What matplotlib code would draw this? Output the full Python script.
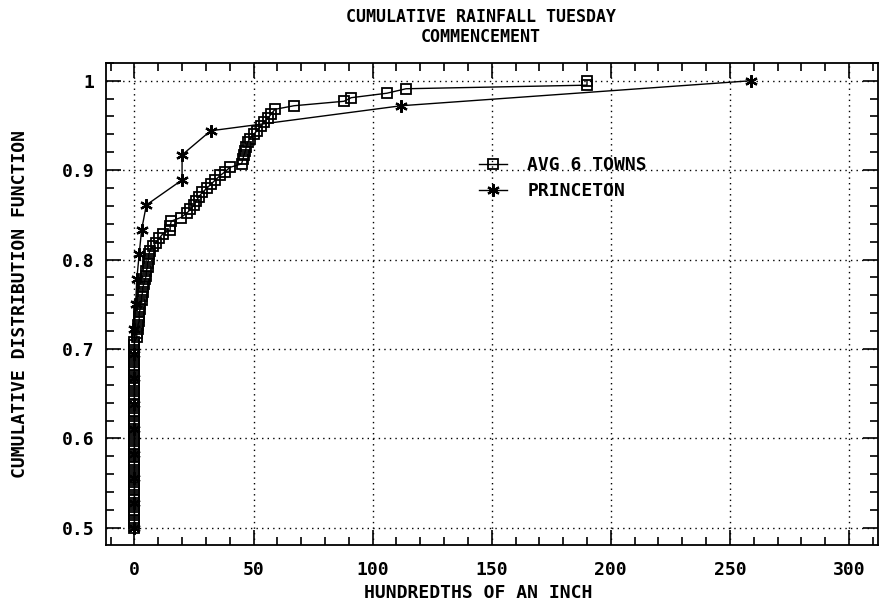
import matplotlib
matplotlib.use('Agg')
import matplotlib.pyplot as plt
from matplotlib.ticker import MultipleLocator, FormatStrFormatter

plt.rcParams['font.family'] = ['DejaVu Sans Mono']
plt.rcParams['font.weight'] = 'bold'
plt.rcParams['axes.labelweight'] = 'bold'

# average of 6 towns (hundredths of an inch, cumulative fraction)
avg_x = [0] * 46 + [
    1, 1, 1.5, 1.5, 2, 2, 2, 2.5, 2.5, 3, 3, 3.5, 3.5, 4, 4.5, 5, 5, 5.5, 5.5, 6,
    6, 6.5, 8, 9, 10.5, 12, 15, 15, 15.5, 19.5, 22, 23.5, 25, 26, 27, 28.5, 30.5,
    32, 34, 36, 38, 40, 45, 45.5, 46, 46.5, 47, 47.5, 48.5, 50, 51.5, 53, 54.5,
    56, 57.5, 59, 67, 88, 91, 106, 114, 190, 190]
avg_y = [
    0.500, 0.505, 0.509, 0.514, 0.519, 0.523, 0.528, 0.532, 0.537, 0.542, 0.546,
    0.551, 0.556, 0.560, 0.565, 0.569, 0.574, 0.579, 0.583, 0.588, 0.593, 0.597,
    0.602, 0.606, 0.611, 0.616, 0.620, 0.625, 0.630, 0.634, 0.639, 0.644, 0.648,
    0.653, 0.657, 0.662, 0.667, 0.671, 0.676, 0.681, 0.685, 0.690, 0.694, 0.699,
    0.704, 0.708,
    0.713, 0.718, 0.722, 0.727, 0.731, 0.736, 0.741, 0.745, 0.750, 0.755, 0.759,
    0.764, 0.769, 0.773, 0.778, 0.782, 0.787, 0.792, 0.796, 0.801, 0.806, 0.810,
    0.815, 0.819, 0.824, 0.829, 0.833, 0.838, 0.843, 0.847, 0.852, 0.856, 0.861,
    0.866, 0.870, 0.875, 0.880, 0.884, 0.889, 0.894, 0.898, 0.903, 0.907, 0.912,
    0.917, 0.921, 0.926, 0.931, 0.935, 0.940, 0.944, 0.949, 0.954, 0.958, 0.963,
    0.968, 0.972, 0.977, 0.981, 0.986, 0.991, 0.995, 1.000]

# princeton
pr_x = [0, 0, 0, 0, 0, 0, 0, 0, 0, 0.5, 1, 2, 3, 5, 20, 20, 32, 112, 259]
pr_y = [0.500, 0.528, 0.556, 0.583, 0.611, 0.639, 0.667, 0.694, 0.722, 0.750,
        0.778, 0.806, 0.833, 0.861, 0.889, 0.917, 0.944, 0.972, 1.000]

fig = plt.figure(figsize=(8.82, 6.04), dpi=100)
ax = fig.add_axes([0.120, 0.098, 0.875, 0.798])

ax.plot(avg_x, avg_y, color='black', lw=1, marker='s', ms=6.5, mfc='none',
        mec='black', mew=1.3, label='AVG 6 TOWNS')
ax.plot(pr_x, pr_y, color='black', lw=1, marker=(6, 2, 0), ms=9, mew=1.6,
        label='PRINCETON')

ax.set_xlim(-12, 312)
ax.set_ylim(0.481, 1.020)
ax.xaxis.set_major_locator(MultipleLocator(50))
ax.xaxis.set_minor_locator(MultipleLocator(10))
ax.yaxis.set_major_locator(MultipleLocator(0.1))
ax.yaxis.set_minor_locator(MultipleLocator(0.02))
ax.yaxis.set_major_formatter(FormatStrFormatter('%g'))
ax.tick_params(which='both', direction='in', top=True, right=True,
               labelsize=13, width=1.2)
ax.tick_params(which='major', length=11)
ax.tick_params(axis='y', which='major', pad=8)
ax.tick_params(axis='x', which='major', pad=12)
ax.tick_params(which='minor', length=6)
ax.grid(True, which='major', color='black', linestyle=(0, (1, 3)), lw=1)
for s in ax.spines.values():
    s.set_linewidth(1.3)

ax.set_xlabel('HUNDREDTHS OF AN INCH', fontsize=13)
ax.set_ylabel('CUMULATIVE DISTRIBUTION FUNCTION', fontsize=13)
ax.xaxis.set_label_coords(0.483, -0.081)
ax.yaxis.set_label_coords(-0.10, 0.5)

fig.text(0.545, 0.972, 'CUMULATIVE RAINFALL TUESDAY', ha='center',
         va='center', fontsize=12)
fig.text(0.545, 0.939, 'COMMENCEMENT', ha='center', va='center', fontsize=12)

ax.legend(loc='upper left', bbox_to_anchor=(0.462, 0.84), frameon=False,
          fontsize=13, handlelength=1.55, handletextpad=1.15, labelspacing=0.45)

fig.savefig('out.png', dpi=100)
